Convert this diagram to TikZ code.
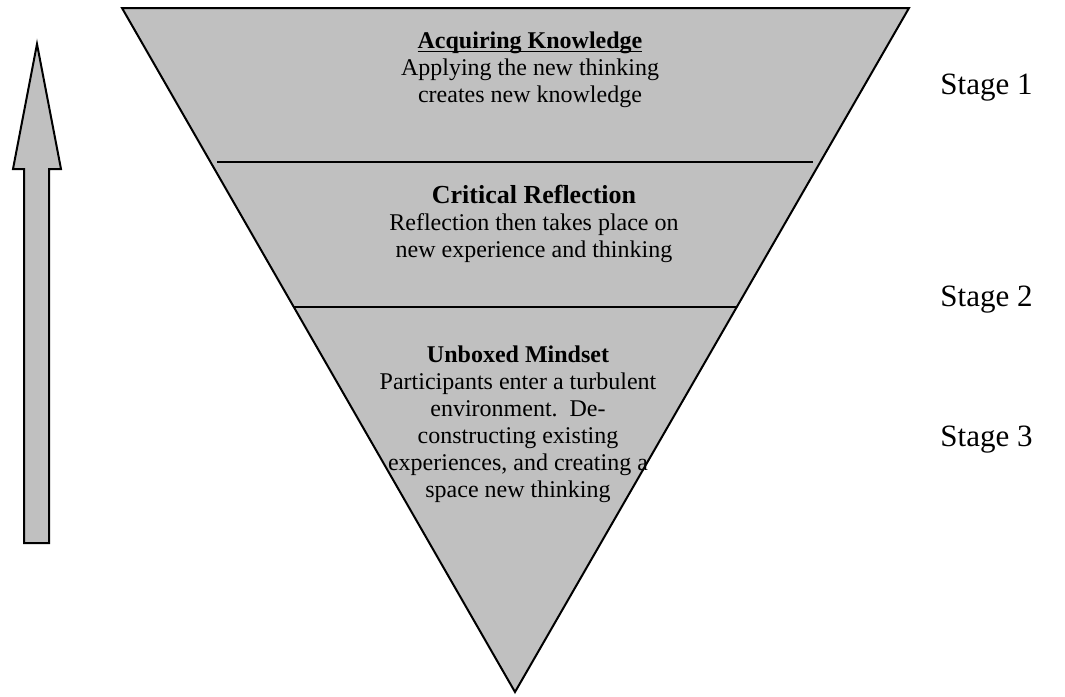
\documentclass[tikz,border=0pt]{standalone}
\usepackage{fontspec}
\setmainfont{Liberation Serif}
\usepackage{xcolor}
\usepackage{tikz}
\usetikzlibrary{positioning}
\definecolor{layer}{RGB}{192,192,192}
\newcommand{\headrule}[1]{\setbox0\hbox{#1}\rlap{\copy0}\rule[-2.2pt]{\wd0}{0.9pt}}

\begin{document}
\begin{tikzpicture}[
    x=0.5pt, y=-0.5pt,
    outline/.style={draw=black, line width=1pt, line join=miter, fill=layer},
    divider/.style={draw=black, line width=1pt},
    layertext/.style={align=center, inner sep=0pt, anchor=north, font=\fontsize{12}{13.5}\selectfont},
    stagetext/.style={anchor=west, inner sep=0pt, font=\fontsize{15.5}{18}\selectfont},
]
\useasboundingbox (0,0) rectangle (1065,696);

% === FUNNEL ===
\coordinate (topleft) at (122,8);
\coordinate (topright) at (909,8);
\coordinate (apex) at (515,692);
\draw[outline] (topleft) -- (topright) -- (apex) -- cycle;

% === LAYER DIVIDERS ===
\coordinate (div1l) at (217,162);
\coordinate (div1r) at (813,162);
\coordinate (div2l) at (294,307);
\coordinate (div2r) at (737,307);
\draw[divider] (div1l) -- (div1r);
\draw[divider] (div2l) -- (div2r);

% === LAYER TEXT ===
\node[layertext] (acquire) at (530,31) {\headrule{\bfseries Acquiring Knowledge}\\Applying the new thinking\\creates new knowledge};
\node[layertext] (reflect) at (534,185) {{\fontsize{13}{13}\selectfont\bfseries Critical Reflection}\\Reflection then takes place on\\new experience and thinking};
\node[layertext] (mindset) at (518,345) {\textbf{Unboxed Mindset}\\Participants enter a turbulent\\environment.\ \ De-\\constructing existing\\experiences, and creating a\\space new thinking};

% === UP ARROW ===
\coordinate (tip) at (37,44);
\draw[outline] (24,543) -- (24,169) -- (13,169) -- (tip) -- (61,169) -- (49,169) -- (49,543) -- cycle;

% === STAGES ===
\node[stagetext] (stage1) at (940,88) {Stage 1};
\node[stagetext] (stage2) at (940,300) {Stage 2};
\node[stagetext] (stage3) at (940,440) {Stage 3};

\end{tikzpicture}
\end{document}
